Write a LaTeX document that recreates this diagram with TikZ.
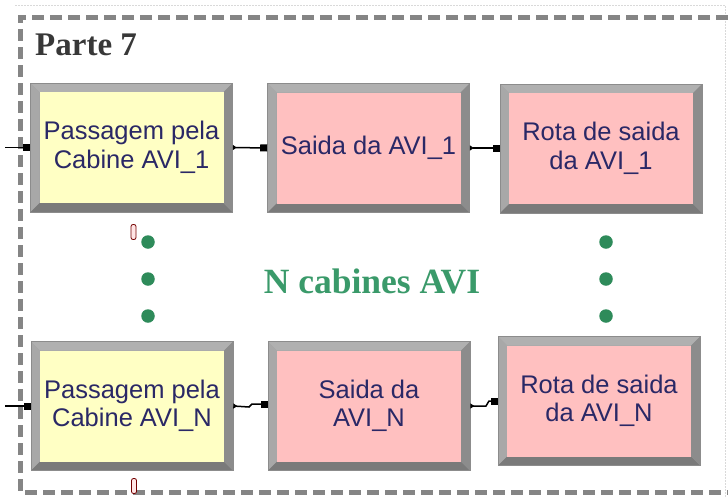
\documentclass[tikz,border=0pt]{standalone}
\usepackage{fontspec}
\setmainfont{Liberation Serif}
\newfontfamily\boxfam{Liberation Sans}
\usetikzlibrary{arrows.meta,calc}
\definecolor{yel}{HTML}{FFFFC4}
\definecolor{pnk}{HTML}{FFC0C0}
\definecolor{txtc}{HTML}{2A2866}
\definecolor{bevmid}{HTML}{A2A2A2}
\definecolor{bevtop}{HTML}{B0B0B0}
\definecolor{bevleft}{HTML}{A8A8A8}
\definecolor{bevbot}{HTML}{7A7A7A}
\definecolor{bevright}{HTML}{8C8C8C}
\definecolor{grn}{HTML}{3A9A6A}
\definecolor{grndot}{HTML}{2E8B5A}
\definecolor{brd}{HTML}{858585}
\definecolor{ttl}{HTML}{383838}
\tikzset{
  blk/.style={minimum width=202pt, minimum height=129pt, inner sep=0pt,
    align=center, text=txtc, draw=bevright, line width=0.6pt,
    font=\boxfam\fontsize{25.5pt}{28.5pt}\selectfont,
    path picture={
      \fill[bevmid] (path picture bounding box.south west) rectangle (path picture bounding box.north east);
      \fill[bevtop] (path picture bounding box.north west) -- (path picture bounding box.north east)
        -- ([shift={(-9pt,-9pt)}]path picture bounding box.north east)
        -- ([shift={(9pt,-9pt)}]path picture bounding box.north west) -- cycle;
      \fill[bevleft] (path picture bounding box.north west) -- (path picture bounding box.south west)
        -- ([shift={(9pt,9pt)}]path picture bounding box.south west)
        -- ([shift={(9pt,-9pt)}]path picture bounding box.north west) -- cycle;
      \fill[bevbot] (path picture bounding box.south west) -- (path picture bounding box.south east)
        -- ([shift={(-9pt,9pt)}]path picture bounding box.south east)
        -- ([shift={(9pt,9pt)}]path picture bounding box.south west) -- cycle;
      \fill[bevright] (path picture bounding box.south east) -- (path picture bounding box.north east)
        -- ([shift={(-9pt,-9pt)}]path picture bounding box.north east)
        -- ([shift={(-9pt,9pt)}]path picture bounding box.south east) -- cycle;
      \fill[#1] ([shift={(9pt,9pt)}]path picture bounding box.south west) rectangle ([shift={(-9pt,-9pt)}]path picture bounding box.north east);
    }},
  conn/.style={line width=1.5pt, black, {Triangle[reversed,length=4pt,width=5pt]}-{Square[length=7pt,width=7pt]}},
  inconn/.style={line width=1.5pt, black, -{Square[length=7pt,width=7pt]}},
  gdot/.style={circle, fill=grndot, minimum size=13.5pt, inner sep=0pt},
  tagmk/.style={rectangle, rounded corners=2pt, draw=red!45!black, fill=red!10, line width=0.8pt, minimum width=5pt, minimum height=15pt, inner sep=0pt},
  border/.style={brd, line width=5pt, dash pattern=on 12pt off 6pt},
  faint/.style={black!15, line width=0.8pt, dash pattern=on 1.5pt off 1.5pt}
}
\begin{document}
\begin{tikzpicture}[x=1pt,y=-1pt]
\useasboundingbox (0,0) rectangle (728,498);
\fill[white] (0,0) rectangle (728,498);
% faint selection outline
\draw[faint] (15,5) -- (725,5) -- (725,498);
% dashed frame
\draw[border] (728,17) -- (20,17) -- (20,492) -- (728,492);
% title
\node[anchor=base west, inner sep=0pt, text=ttl, font=\bfseries\fontsize{33pt}{36pt}\selectfont] (title) at (35,55) {Parte 7};
% boxes
\node[blk=yel] (b1) at (131.5,147.5) {Passagem pela\\Cabine AVI\_1};
\node[blk=pnk] (b2) at (368.5,148) {Saida da AVI\_1};
\node[blk=pnk] (b3) at (601,148.5) {Rota de saida\\da AVI\_1};
\node[blk=yel] (b4) at (132,406) {Passagem pela\\Cabine AVI\_N};
\node[blk=pnk] (b5) at (369,406) {Saida da\\AVI\_N};
\node[blk=pnk] (b6) at (599,401) {Rota de saida\\da AVI\_N};
% incoming lines
\coordinate (in1) at (5,147.5);
\coordinate (in4) at (5,406);
\draw[inconn] (in1) -- (b1.west);
\draw[inconn] (in4) -- (b4.west);
% top row connectors
\draw[conn] (b1.east) -- (b2.west);
\draw[conn] (b2.east) -- (b3.west |- b2.east);
% bottom row connectors with small kinks
\coordinate (k1) at (249,407);
\coordinate (k2) at (252,404);
\coordinate (k3) at (486,406);
\coordinate (k4) at (489,401);
\draw[conn] (b4.east) -- (k1) -- (k2) -- (k2 -| b5.west);
\draw[conn] (b5.east) -- (k3) -- (k4) -- (b6.west);
% dots
\node[gdot] (d1) at (148,242) {};
\node[gdot] (d2) at (148,279) {};
\node[gdot] (d3) at (148,316) {};
\node[gdot] (d4) at (606,242) {};
\node[gdot] (d5) at (606,279) {};
\node[gdot] (d6) at (606,316) {};
% label
\node[anchor=base, inner sep=0pt, text=grn, font=\bfseries\fontsize{35.5pt}{38pt}\selectfont] (lbl) at (372,293) {N cabines AVI};
% small marks
\node[tagmk] (m1) at (133.5,232) {};
\node[tagmk] (m2) at (134,486) {};
\end{tikzpicture}
\end{document}
